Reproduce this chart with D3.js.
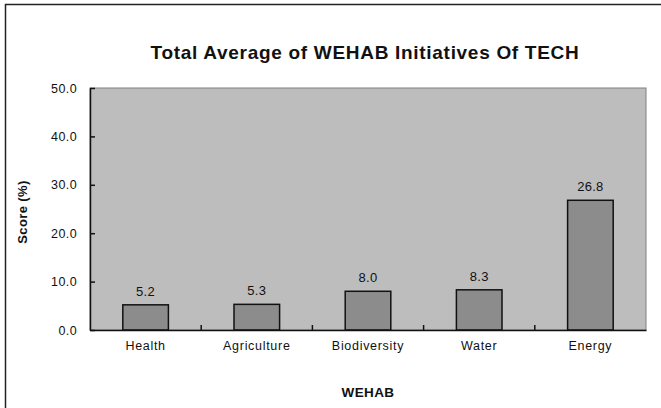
<!DOCTYPE html>
<html>
<head>
<meta charset="utf-8">
<script src="https://cdn.jsdelivr.net/npm/d3@7"></script>
<style>
  body { margin: 0; background: #fff; }
  svg text { font-family: "Liberation Sans", Arial, sans-serif; fill: #111; }
</style>
</head>
<body>
<div id="chart"></div>
<script>
const categories = ["Health", "Agriculture", "Biodiversity", "Water", "Energy"];
const scores = [5.2, 5.3, 8.0, 8.3, 26.8];
const yTicks = [0, 10, 20, 30, 40, 50];

const margin = { top: 88, right: 15, bottom: 78, left: 90 },
      width = 661 - margin.left - margin.right,
      height = 408 - margin.top - margin.bottom;

const svgRoot = d3.select("#chart")
                  .append("svg")
                  .attr("width", 661)
                  .attr("height", 408);

// outer frame (runs off the right and bottom edge like the source)
svgRoot.append("rect")
       .attr("x", 5.5)
       .attr("y", 4.5)
       .attr("width", 700)
       .attr("height", 500)
       .attr("fill", "none")
       .attr("stroke", "#222")
       .attr("stroke-width", 1.5);

const svg = svgRoot.append("g")
                   .attr("transform", `translate(${margin.left},${margin.top})`);

const xScale = d3.scaleBand()
                 .domain(categories)
                 .range([0, width])
                 .paddingInner(0.59)
                 .paddingOuter(0.295);

const yScale = d3.scaleLinear()
                 .domain([0, 50])
                 .range([height, 0]);

// plot area
svg.append("rect")
   .attr("width", width)
   .attr("height", height)
   .attr("fill", "#bdbdbd")
   .attr("stroke", "#808080")
   .attr("stroke-width", 1);

// bars
svg.selectAll(".bar")
   .data(scores)
   .enter()
   .append("rect")
   .attr("class", "bar")
   .attr("x", (d, i) => xScale(categories[i]))
   .attr("y", d => yScale(d))
   .attr("width", xScale.bandwidth())
   .attr("height", d => height - yScale(d))
   .attr("fill", "#8c8c8c")
   .attr("stroke", "#111")
   .attr("stroke-width", 1.5);

// value labels
svg.selectAll(".value")
   .data(scores)
   .enter()
   .append("text")
   .attr("class", "value")
   .attr("x", (d, i) => xScale(categories[i]) + xScale.bandwidth() / 2)
   .attr("y", d => yScale(d) - 9)
   .attr("text-anchor", "middle")
   .style("font-size", "13px")
   .style("letter-spacing", "0.3px")
   .text(d => d.toFixed(1));

// y axis
const yAxis = svg.append("g")
                 .call(d3.axisLeft(yScale).tickValues(yTicks).tickSizeInner(-5).tickSizeOuter(0).tickPadding(13).tickFormat(d3.format(".1f")));
yAxis.select(".domain").attr("stroke", "#111").attr("stroke-width", 1.5);
yAxis.selectAll(".tick line").attr("stroke", "#111").attr("stroke-width", 1.5);
yAxis.selectAll(".tick text").style("font-size", "12.5px").style("letter-spacing", "0.4px");

// x axis, ticks between categories pointing up
const xAxis = svg.append("g")
                 .attr("transform", `translate(0,${height})`)
                 .call(d3.axisBottom(xScale).tickSize(0).tickPadding(11));
xAxis.select(".domain").attr("stroke", "#111").attr("stroke-width", 1.5);
xAxis.selectAll(".tick text").style("font-size", "12.5px").style("letter-spacing", "0.7px");

svg.selectAll(".sep")
   .data(categories.slice(1))
   .enter()
   .append("line")
   .attr("class", "sep")
   .attr("x1", d => xScale(d) - xScale.step() * xScale.paddingInner() / 2)
   .attr("x2", d => xScale(d) - xScale.step() * xScale.paddingInner() / 2)
   .attr("y1", height)
   .attr("y2", height - 5)
   .attr("stroke", "#111")
   .attr("stroke-width", 1.5);

// title
svgRoot.append("text")
       .attr("x", 365)
       .attr("y", 59)
       .attr("text-anchor", "middle")
       .style("font-size", "19px")
       .style("font-weight", "bold")
       .style("letter-spacing", "0.7px")
       .text("Total Average of WEHAB Initiatives Of TECH");

// axis titles
svgRoot.append("text")
       .attr("transform", "rotate(-90)")
       .attr("x", -212)
       .attr("y", 27)
       .attr("text-anchor", "middle")
       .style("font-size", "13px")
       .style("font-weight", "bold")
       .style("letter-spacing", "0.4px")
       .text("Score (%)");

svgRoot.append("text")
       .attr("x", margin.left + width / 2)
       .attr("y", 397)
       .attr("text-anchor", "middle")
       .style("font-size", "13.5px")
       .style("font-weight", "bold")
       .style("letter-spacing", "0.4px")
       .text("WEHAB");
</script>
</body>
</html>
